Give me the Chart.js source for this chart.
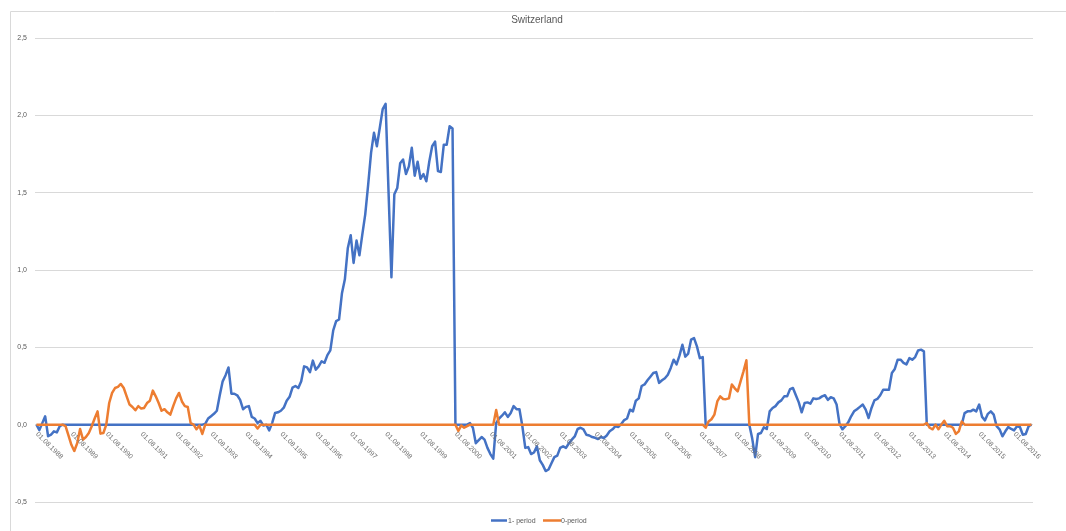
<!DOCTYPE html>
<html>
<head>
<meta charset="utf-8">
<title>Switzerland</title>
<script src="https://cdn.jsdelivr.net/npm/chart.js@4/dist/chart.umd.min.js"></script>
<style>
  html, body { margin: 0; padding: 0; background: #fff; }
  #wrap { position: relative; width: 1066px; height: 531px; }
</style>
</head>
<body>
<div id="wrap"><canvas id="chart"></canvas></div>
<script>
// monthly observations, first one is 01.08.1988
const startYear = 1988;
const startMonth = 8;
const monthCount = 343;

const yTicks = [-0.5, 0, 0.5, 1.0, 1.5, 2.0, 2.5];
const seriesNames = ['1- period', '0-period'];
const seriesColors = ['#4472C4', '#ED7D31'];

// one row per year, Aug..Jul
const onePeriod = [
  0, -0.035, 0.01, 0.054, -0.075, -0.065, -0.043, -0.05, -0.01, 0, 0, 0,
  0, 0, 0, 0, 0, 0, 0, 0, 0, 0, 0, 0,
  0, 0, 0, 0, 0, 0, 0, 0, 0, 0, 0, 0,
  0, 0, 0, 0, 0, 0, 0, 0, 0, 0, 0, 0,
  0, 0, 0, 0, 0, 0, 0, 0, 0, 0, 0.005, 0.04,
  0.055, 0.07, 0.09, 0.19, 0.28, 0.32, 0.37, 0.20, 0.20, 0.19, 0.16, 0.10,
  0.115, 0.12, 0.05, 0.04, 0.01, 0.025, -0.006, 0, -0.037, 0.01, 0.075, 0.08,
  0.09, 0.11, 0.155, 0.18, 0.24, 0.25, 0.237, 0.28, 0.377, 0.37, 0.34, 0.414,
  0.356, 0.377, 0.41, 0.40, 0.45, 0.48, 0.61, 0.67, 0.68, 0.85, 0.94, 1.14,
  1.225, 1.046, 1.19, 1.095, 1.23, 1.36, 1.55, 1.757, 1.887, 1.80, 1.92, 2.04,
  2.074, 1.51, 0.953, 1.49, 1.53, 1.69, 1.714, 1.62, 1.67, 1.79, 1.61, 1.70,
  1.59, 1.62, 1.574, 1.70, 1.80, 1.83, 1.64, 1.634, 1.81, 1.81, 1.93, 1.915,
  0, 0, 0, 0, 0, 0.01, -0.02, -0.12, -0.10, -0.08, -0.097, -0.15,
  -0.19, -0.22, 0.01, 0.04, 0.058, 0.08, 0.05, 0.075, 0.12, 0.10, 0.10, -0.01,
  -0.15, -0.145, -0.19, -0.18, -0.14, -0.23, -0.26, -0.30, -0.29, -0.25, -0.21, -0.20,
  -0.15, -0.14, -0.15, -0.12, -0.097, -0.076, -0.028, -0.02, -0.03, -0.065, -0.07, -0.08,
  -0.085, -0.093, -0.08, -0.086, -0.07, -0.043, -0.03, -0.01, -0.015, 0.005, 0.03, 0.04,
  0.097, 0.086, 0.155, 0.17, 0.25, 0.26, 0.287, 0.31, 0.334, 0.34, 0.27, 0.287,
  0.30, 0.323, 0.367, 0.42, 0.39, 0.446, 0.517, 0.44, 0.46, 0.55, 0.56, 0.506,
  0.43, 0.437, 0, 0, 0, 0, 0, 0, 0, 0, 0, 0,
  0, 0, 0, 0, 0, 0, -0.09, -0.21, -0.06, -0.054, -0.017, -0.028,
  0.086, 0.108, 0.12, 0.144, 0.157, 0.183, 0.183, 0.23, 0.237, 0.19, 0.144, 0.08,
  0.14, 0.144, 0.136, 0.17, 0.166, 0.17, 0.183, 0.19, 0.16, 0.177, 0.17, 0.13,
  0.005, -0.03, -0.01, 0.015, 0.054, 0.086, 0.10, 0.115, 0.13, 0.097, 0.043, 0.108,
  0.157, 0.166, 0.19, 0.226, 0.226, 0.226, 0.334, 0.36, 0.42, 0.42, 0.40, 0.39,
  0.43, 0.42, 0.437, 0.48, 0.485, 0.474, 0, 0, 0, 0, 0, 0,
  0, 0, 0, 0, 0, 0, 0, 0.075, 0.086, 0.086, 0.097, 0.086,
  0.13, 0.05, 0.028, 0.07, 0.086, 0.065, -0.01, -0.03, -0.075, -0.043, -0.015, -0.028,
  -0.037, -0.01, -0.015, -0.065, -0.06, -0.01, 0
];

const zeroPeriod = [
  0, 0, 0, 0, 0, 0, 0, 0, 0, 0, -0.01, -0.07,
  -0.13, -0.17, -0.12, -0.028, -0.097, -0.08, -0.054, -0.01, 0.04, 0.086, -0.058, -0.054,
  0, 0.14, 0.205, 0.237, 0.244, 0.263, 0.237, 0.183, 0.13, 0.114, 0.093, 0.12,
  0.104, 0.108, 0.14, 0.155, 0.22, 0.183, 0.14, 0.09, 0.10, 0.08, 0.065, 0.12,
  0.17, 0.205, 0.15, 0.12, 0.114, 0.01, 0, -0.03, -0.006, -0.06, 0, 0,
  0, 0, 0, 0, 0, 0, 0, 0, 0, 0, 0, 0,
  0, 0, 0, 0, -0.025, 0, 0, 0, 0, 0, 0, 0,
  0, 0, 0, 0, 0, 0, 0, 0, 0, 0, 0, 0,
  0, 0, 0, 0, 0, 0, 0, 0, 0, 0, 0, 0,
  0, 0, 0, 0, 0, 0, 0, 0, 0, 0, 0, 0,
  0, 0, 0, 0, 0, 0, 0, 0, 0, 0, 0, 0,
  0, 0, 0, 0, 0, 0, 0, 0, 0, 0, 0, 0,
  0, -0.04, -0.005, -0.02, -0.01, 0, 0, 0, 0, 0, 0, 0,
  0, 0, 0.095, 0, 0, 0, 0, 0, 0, 0, 0, 0,
  0, 0, 0, 0, 0, 0, 0, 0, 0, 0, 0, 0,
  0, 0, 0, 0, 0, 0, 0, 0, 0, 0, 0, 0,
  0, 0, 0, 0, 0, 0, 0, 0, 0, 0, 0, 0,
  0, 0, 0, 0, 0, 0, 0, 0, 0, 0, 0, 0,
  0, 0, 0, 0, 0, 0, 0, 0, 0, 0, 0, 0,
  0, 0, -0.02, 0.02, 0.035, 0.065, 0.15, 0.183, 0.166, 0.165, 0.17, 0.26,
  0.235, 0.215, 0.28, 0.345, 0.416, 0, 0, 0, 0, 0, 0, 0,
  0, 0, 0, 0, 0, 0, 0, 0, 0, 0, 0, 0,
  0, 0, 0, 0, 0, 0, 0, 0, 0, 0, 0, 0,
  0, 0, 0, 0, 0, 0, 0, 0, 0, 0, 0, 0,
  0, 0, 0, 0, 0, 0, 0, 0, 0, 0, 0, 0,
  0, 0, 0, 0, 0, 0, 0.01, -0.02, -0.03, 0, -0.03, 0,
  0.025, -0.01, -0.01, -0.02, -0.06, -0.043, 0.02, 0, 0, 0, 0, 0,
  0, 0, 0, 0, 0, 0, 0, 0, 0, 0, 0, 0,
  0, 0, 0, 0, 0, 0, 0
];

// labels "01.MM.YYYY" for every month
const months = [];
for (let i = 0; i < monthCount; i++) {
  const m = (startMonth - 1 + i) % 12 + 1;
  const y = startYear + Math.floor((startMonth - 1 + i) / 12);
  months.push('01.' + String(m).padStart(2, '0') + '.' + y);
}

const FONT = "'Liberation Sans', 'DejaVu Sans', sans-serif";
const GREY = '#595959';

// frame, title, slanted date labels and legend
const decorations = {
  id: 'decorations',
  beforeDraw(chart) {
    const ctx = chart.ctx;
    ctx.save();
    ctx.strokeStyle = '#d9d9d9';
    ctx.lineWidth = 1;
    ctx.beginPath();
    ctx.moveTo(10.5, 531);
    ctx.lineTo(10.5, 11.5);
    ctx.lineTo(1066, 11.5);
    ctx.stroke();
    ctx.restore();
  },
  afterDraw(chart) {
    const ctx = chart.ctx;
    const xs = chart.scales.x;
    const ys = chart.scales.y;
    ctx.save();

    ctx.fillStyle = GREY;
    ctx.font = '10px ' + FONT;
    ctx.textAlign = 'center';
    ctx.textBaseline = 'middle';
    ctx.fillText('Switzerland', 537, 20);

    // one date label per year, hung below the zero line
    ctx.font = '7px ' + FONT;
    ctx.fillStyle = '#6f6f6f';
    ctx.textAlign = 'left';
    ctx.textBaseline = 'top';
    const y0 = ys.getPixelForValue(0);
    months.forEach((lab, i) => {
      if (i % 12 !== 0) return;
      const x = xs.getPixelForValue(i);
      ctx.save();
      ctx.translate(x + 3, y0 + 6);
      ctx.rotate(Math.PI / 4);
      ctx.fillText(lab, 0, 0);
      ctx.restore();
    });

    // legend
    const ly = 520.5;
    const items = [
      { x1: 491, x2: 507, tx: 508 },
      { x1: 543, x2: 561, tx: 561 }
    ];
    ctx.textBaseline = 'middle';
    items.forEach((it, k) => {
      ctx.strokeStyle = seriesColors[k];
      ctx.lineWidth = 2.5;
      ctx.beginPath();
      ctx.moveTo(it.x1, ly);
      ctx.lineTo(it.x2, ly);
      ctx.stroke();
      ctx.fillStyle = GREY;
      ctx.fillText(seriesNames[k], it.tx, ly + 0.5);
    });
    ctx.restore();
  }
};

new Chart(document.getElementById('chart'), {
  type: 'line',
  data: {
    labels: months,
    datasets: [
      {
        label: seriesNames[0],
        data: onePeriod,
        borderColor: seriesColors[0],
        borderWidth: 2.5,
        pointRadius: 0,
        tension: 0,
        borderJoinStyle: 'round',
        order: 1
      },
      {
        label: seriesNames[1],
        data: zeroPeriod,
        borderColor: seriesColors[1],
        borderWidth: 2.5,
        pointRadius: 0,
        tension: 0,
        borderJoinStyle: 'round',
        order: 0
      }
    ]
  },
  options: {
    responsive: true,
    maintainAspectRatio: false,
    animation: false,
    events: [],
    layout: { padding: { top: 38, right: 33, bottom: 29, left: 0 } },
    plugins: {
      legend: { display: false },
      title: { display: false },
      tooltip: { enabled: false }
    },
    scales: {
      x: {
        type: 'category',
        offset: true,
        grid: { display: false },
        border: { display: false },
        ticks: { display: false },
        afterFit: function(scale) { scale.height = 0; }
      },
      y: {
        min: -0.5,
        max: 2.5,
        afterBuildTicks: function(scale) {
          scale.ticks = yTicks.map(v => ({ value: v }));
        },
        grid: { color: '#d9d9d9', lineWidth: 1, drawTicks: false },
        border: { display: false },
        ticks: {
          padding: 8,
          color: GREY,
          font: { size: 7, family: FONT },
          callback: function(value) {
            return value.toFixed(1).replace('.', ',');
          }
        },
        afterFit: function(scale) { scale.width = 35; }
      }
    }
  },
  plugins: [decorations]
});
</script>
</body>
</html>
